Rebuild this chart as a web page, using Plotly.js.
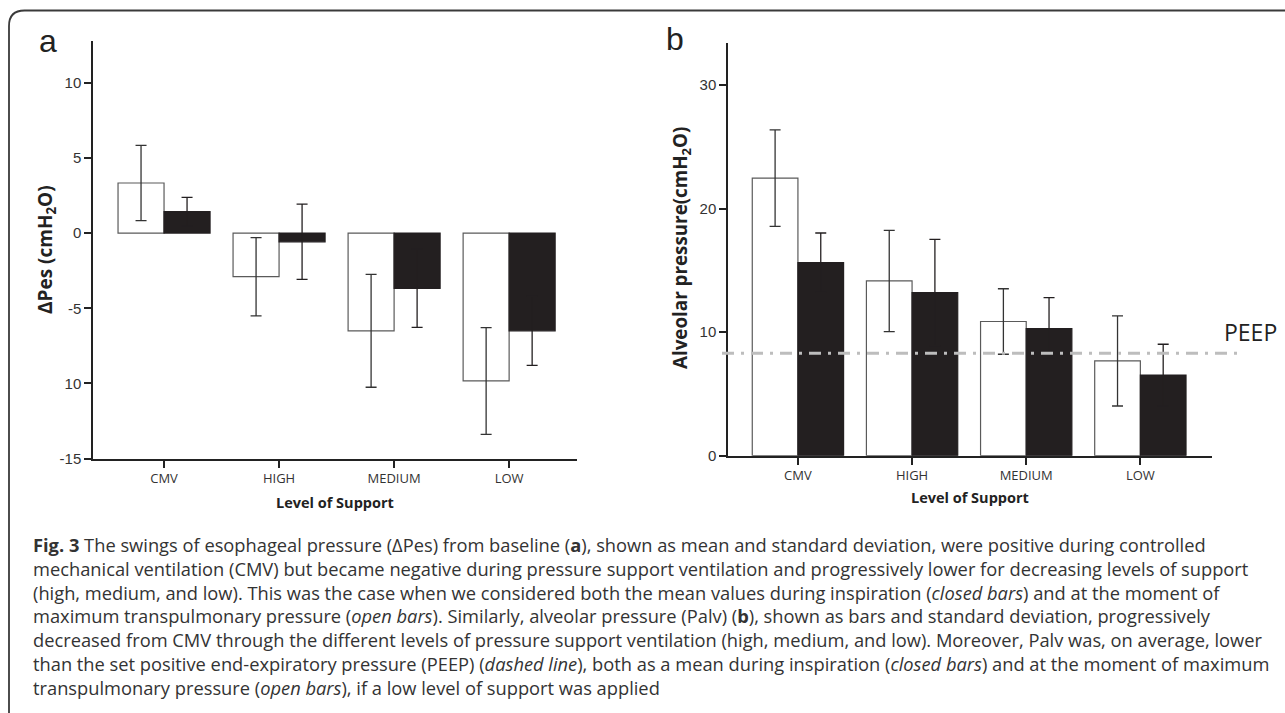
<!DOCTYPE html>
<html>
<head>
<meta charset="utf-8">
<script src="https://cdn.plot.ly/plotly-3.0.1.min.js"></script>
<style>html,body{margin:0;padding:0;background:#fff;}#chart{width:1285px;height:713px;}</style>
</head>
<body>
<div id="chart"></div>
<script>
// ---- data ----
const levels = ['CMV', 'HIGH', 'MEDIUM', 'LOW'];

// Panel a: ΔPes (cmH2O)
const pesOpen = [3.33, -2.9, -6.5, -9.83];
const pesOpenSD = [2.5, 2.6, 3.75, 3.55];
const pesClosed = [1.42, -0.58, -3.67, -6.5];
const pesClosedSD = [0.95, 2.5, 2.6, 2.3];
const pesTickVals = [-15, -10, -5, 0, 5, 10];
const pesTickText = ['-15', '10', '-5', '0', '5', '10'];

// Panel b: Alveolar pressure (cmH2O)
const palvOpen = [22.46, 14.14, 10.86, 7.67];
const palvOpenSD = [3.9, 4.1, 2.65, 3.65];
const palvClosed = [15.62, 13.2, 10.29, 6.52];
const palvClosedSD = [2.4, 4.3, 2.5, 2.5];
const palvTickVals = [0, 10, 20, 30];
const peep = 8.3;

const captionLines = [
  '<b>Fig. 3</b> The swings of esophageal pressure (ΔPes) from baseline (<b>a</b>), shown as mean and standard deviation, were positive during controlled',
  'mechanical ventilation (CMV) but became negative during pressure support ventilation and progressively lower for decreasing levels of support',
  '(high, medium, and low). This was the case when we considered both the mean values during inspiration (<i>closed bars</i>) and at the moment of',
  'maximum transpulmonary pressure (<i>open bars</i>). Similarly, alveolar pressure (Palv) (<b>b</b>), shown as bars and standard deviation, progressively',
  'decreased from CMV through the different levels of pressure support ventilation (high, medium, and low). Moreover, Palv was, on average, lower',
  'than the set positive end-expiratory pressure (PEEP) (<i>dashed line</i>), both as a mean during inspiration (<i>closed bars</i>) and at the moment of maximum',
  'transpulmonary pressure (<i>open bars</i>), if a low level of support was applied'
];

// ---- helpers (pixel -> paper) ----
const W = 1285, H = 713;
const px = v => v / W;
const py = v => 1 - v / H;

const openColor = '#ffffff', openLine = '#5a5a5a';
const closedColor = '#231f20';

function barTrace(y, sd, open, xa, ya) {
  return {
    type: 'bar', x: levels, y: y, xaxis: xa, yaxis: ya,
    marker: {color: open ? openColor : closedColor, line: {color: open ? openLine : closedColor, width: 1.2}},
    error_y: {type: 'data', array: sd, visible: true, color: open ? '#333333' : closedColor, thickness: 1.3, width: 5.5},
    hoverinfo: 'skip', showlegend: false
  };
}

const data = [
  barTrace(pesOpen, pesOpenSD, true, 'x', 'y'),
  barTrace(pesClosed, pesClosedSD, false, 'x', 'y'),
  barTrace(palvOpen, palvOpenSD, true, 'x2', 'y2'),
  barTrace(palvClosed, palvClosedSD, false, 'x2', 'y2')
];

const xTickFont = {family: 'Open Sans', size: 13, color: '#333'};
const yTickFont = {family: 'Liberation Sans', size: 15, color: '#333'};

const commonX = {
  type: 'category', showgrid: false, zeroline: false, showline: true,
  linecolor: '#222', linewidth: 2, ticks: 'outside', ticklen: 7, tickwidth: 2, tickcolor: '#222',
  tickfont: xTickFont, fixedrange: true
};
const commonY = {
  showgrid: false, zeroline: false, showline: true,
  linecolor: '#222', linewidth: 2, ticks: 'outside', ticklen: 7, tickwidth: 2, tickcolor: '#222',
  tickfont: yTickFont, fixedrange: true
};

const annotations = [
  {text: 'a', x: px(48), y: py(41), xref: 'paper', yref: 'paper', showarrow: false,
   xanchor: 'center', yanchor: 'middle', font: {family: 'Liberation Sans', size: 32, color: '#222'}},
  {text: 'b', x: px(675), y: py(39), xref: 'paper', yref: 'paper', showarrow: false,
   xanchor: 'center', yanchor: 'middle', font: {family: 'Liberation Sans', size: 32, color: '#222'}},
  {text: '<b>ΔPes (cmH<sub>2</sub>O)</b>', x: px(46), y: py(250), xref: 'paper', yref: 'paper', showarrow: false,
   textangle: -90, xanchor: 'center', yanchor: 'middle', font: {family: 'Open Sans', size: 19, color: '#222'}},
  {text: '<b>Alveolar pressure(cmH<sub>2</sub>O)</b>', x: px(681), y: py(248), xref: 'paper', yref: 'paper', showarrow: false,
   textangle: -90, xanchor: 'center', yanchor: 'middle', font: {family: 'Open Sans', size: 18.8, color: '#222'}},
  {text: '<b>Level of Support</b>', x: px(335), y: py(503), xref: 'paper', yref: 'paper', showarrow: false,
   xanchor: 'center', yanchor: 'middle', font: {family: 'Open Sans', size: 14.5, color: '#222'}},
  {text: '<b>Level of Support</b>', x: px(970), y: py(497), xref: 'paper', yref: 'paper', showarrow: false,
   xanchor: 'center', yanchor: 'middle', font: {family: 'Open Sans', size: 14.5, color: '#222'}},
  {text: 'PEEP', x: px(1222), y: py(332), xref: 'paper', yref: 'paper', showarrow: false,
   xanchor: 'left', yanchor: 'middle', font: {family: 'Open Sans', size: 23, color: '#222'}},
  {text: captionLines.join('<br>'), x: px(31), y: py(615.5), xref: 'paper', yref: 'paper', showarrow: false,
   xanchor: 'left', yanchor: 'middle', align: 'left', font: {family: 'Open Sans', size: 18.3, color: '#333'}}
];

const layout = {
  width: W, height: H, autosize: false,
  margin: {l: 0, r: 0, t: 0, b: 0},
  paper_bgcolor: '#fff', plot_bgcolor: 'rgba(0,0,0,0)',
  barmode: 'group', bargap: 0.2, bargroupgap: 0,
  showlegend: false,
  xaxis: Object.assign({}, commonX, {domain: [px(93.3), px(577)], range: [-0.615, 3.59], anchor: 'y'}),
  yaxis: Object.assign({}, commonY, {domain: [py(458.7), py(41.3)], range: [-15, 12.75],
    tickmode: 'array', tickvals: pesTickVals, ticktext: pesTickText, anchor: 'x'}),
  xaxis2: Object.assign({}, commonX, {domain: [px(728.3), px(1211.7)], range: [-0.61, 3.625], anchor: 'y2'}),
  yaxis2: Object.assign({}, commonY, {domain: [py(455.7), py(43.3)], range: [0, 33.37],
    tickmode: 'array', tickvals: palvTickVals, ticktext: palvTickVals.map(String), anchor: 'x2'}),
  shapes: [
    {type: 'path', xref: 'paper', yref: 'paper',
     path: `M ${px(9)},${py(720)} L ${px(9)},${py(26)} Q ${px(9)},${py(10.5)} ${px(24.5)},${py(10.5)} L ${px(1290)},${py(10.5)}`,
     line: {color: '#3a3a3a', width: 1.8}},
    {type: 'line', xref: 'paper', yref: 'y2', x0: px(722), x1: px(1241), y0: peep, y1: peep,
     line: {color: '#bdbdbd', width: 3, dash: '12px,7px,3px,7px'}}
  ],
  annotations: annotations
};

Plotly.newPlot('chart', data, layout, {staticPlot: true, displayModeBar: false});
</script>
</body>
</html>
